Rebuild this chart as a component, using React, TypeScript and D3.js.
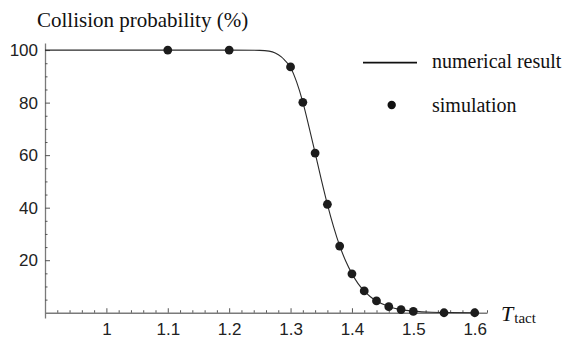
import React, { useEffect, useRef } from 'react';
import * as d3 from 'd3';

// numerical result
const curveT = [0.9, 1.2, 1.25, 1.265, 1.275, 1.285, 1.29, 1.3, 1.31, 1.32, 1.33, 1.34, 1.35, 1.36, 1.37, 1.38, 1.39, 1.4, 1.41, 1.42, 1.43, 1.44, 1.46, 1.48, 1.5, 1.53, 1.56, 1.6];
const curveP = [100, 100, 99.9, 99.6, 98.9, 97.4, 96.3, 93.4, 87.8, 80.2, 70.8, 60.9, 50.8, 41.3, 32.8, 25.5, 19.6, 14.9, 11.1, 8.3, 6.1, 4.5, 2.4, 1.2, 0.6, 0.2, 0.1, 0];

// simulation points
const simT = [1.1, 1.2, 1.3, 1.32, 1.34, 1.36, 1.38, 1.4, 1.42, 1.44, 1.46, 1.48, 1.5, 1.55, 1.6];
const simP = [100, 100, 93.6, 80.1, 60.8, 41.3, 25.4, 14.8, 8.3, 4.5, 2.3, 1.2, 0.5, 0, 0];

const xMajor = [1, 1.1, 1.2, 1.3, 1.4, 1.5, 1.6];
const yMajor = [20, 40, 60, 80, 100];

const App: React.FC = () => {
  const ref = useRef<SVGSVGElement>(null);

  useEffect(() => {
    if (!ref.current) return;
    const svg = d3.select(ref.current);
    svg.selectAll('*').remove();

    const x = d3.scaleLinear().domain([0.9, 1.62]).range([45, 487]);
    const y = d3.scaleLinear().domain([-2, 102.7]).range([318, 43]);

    const axisColor = '#7a7a7a';
    const sans = '"Liberation Sans", Arial, sans-serif';
    const serif = '"Liberation Serif", "Times New Roman", serif';

    const xMinor = d3.range(46).map((i) => +(0.92 + i * 0.02).toFixed(2)).filter((v) => v <= 1.62 && !xMajor.some((m) => Math.abs(m - v) < 1e-6));
    const yMinor = d3.range(5, 101, 5).filter((v) => v % 20 !== 0);

    // x axis
    const gx = svg.append('g').attr('transform', `translate(0,${y(0)})`);
    gx.call(d3.axisBottom(x).tickValues(xMinor).tickSize(-2.5).tickSizeOuter(0).tickFormat(() => ''));
    gx.append('g').call(d3.axisBottom(x).tickValues(xMajor).tickSize(-4.5).tickSizeOuter(0).tickPadding(10).tickFormat(d3.format('')))
      .call((g) => g.select('.domain').remove());
    gx.selectAll('.domain').attr('stroke', axisColor).attr('stroke-width', 1.3);
    gx.selectAll('.tick line').attr('stroke', '#555');
    gx.selectAll('.tick text').attr('fill', '#222').attr('font-size', 17).attr('font-family', sans);

    // y axis
    const gy = svg.append('g').attr('transform', `translate(${x(0.9)},0)`);
    gy.call(d3.axisLeft(y).tickValues(yMinor).tickSize(-2.5).tickSizeOuter(0).tickFormat(() => ''));
    gy.append('g').call(d3.axisLeft(y).tickValues(yMajor).tickSize(-5).tickSizeOuter(0).tickPadding(7).tickFormat(d3.format('')))
      .call((g) => g.select('.domain').remove());
    gy.selectAll('.domain').attr('stroke', axisColor).attr('stroke-width', 1.3);
    gy.selectAll('.tick line').attr('stroke', '#555');
    gy.selectAll('.tick text').attr('fill', '#222').attr('font-size', 17).attr('font-family', sans);

    // numerical curve
    const line = d3.line<number>()
      .x((_, i) => x(curveT[i]))
      .y((d) => y(d))
      .curve(d3.curveMonotoneX);
    svg.append('path')
      .attr('d', line(curveP))
      .attr('fill', 'none')
      .attr('stroke', '#2a2a2a')
      .attr('stroke-width', 1.1);

    // simulation dots
    svg.selectAll('.sim')
      .data(simP)
      .enter()
      .append('circle')
      .attr('class', 'sim')
      .attr('cx', (_, i) => x(simT[i]))
      .attr('cy', (d) => y(d))
      .attr('r', 4.4)
      .attr('fill', '#1c1c1c');

    // title
    svg.append('text')
      .attr('x', 37)
      .attr('y', 27)
      .attr('font-family', serif)
      .attr('font-size', 21)
      .attr('fill', '#111')
      .text('Collision probability (%)');

    // x label
    const xl = svg.append('text').attr('x', 501).attr('y', 321).attr('font-family', serif).attr('fill', '#111');
    xl.append('tspan').attr('font-style', 'italic').attr('font-size', 22).text('T');
    xl.append('tspan').attr('font-size', 15).attr('dx', 1).attr('dy', 2).text('tact');

    // legend
    svg.append('line').attr('x1', 363).attr('x2', 417).attr('y1', 62.7).attr('y2', 62.7)
      .attr('stroke', '#111').attr('stroke-width', 1.8);
    svg.append('text').attr('x', 432).attr('y', 68).attr('font-family', serif).attr('font-size', 20)
      .attr('fill', '#111').text('numerical result');
    svg.append('circle').attr('cx', 391.7).attr('cy', 105).attr('r', 4.2).attr('fill', '#111');
    svg.append('text').attr('x', 432).attr('y', 111.5).attr('font-family', serif).attr('font-size', 20)
      .attr('fill', '#111').text('simulation');
  }, []);

  return (
    <svg
      ref={ref}
      width={570}
      height={340}
      style={{ position: 'absolute', left: 0, top: 0, background: '#fff' }}
    />
  );
};

export default App;
